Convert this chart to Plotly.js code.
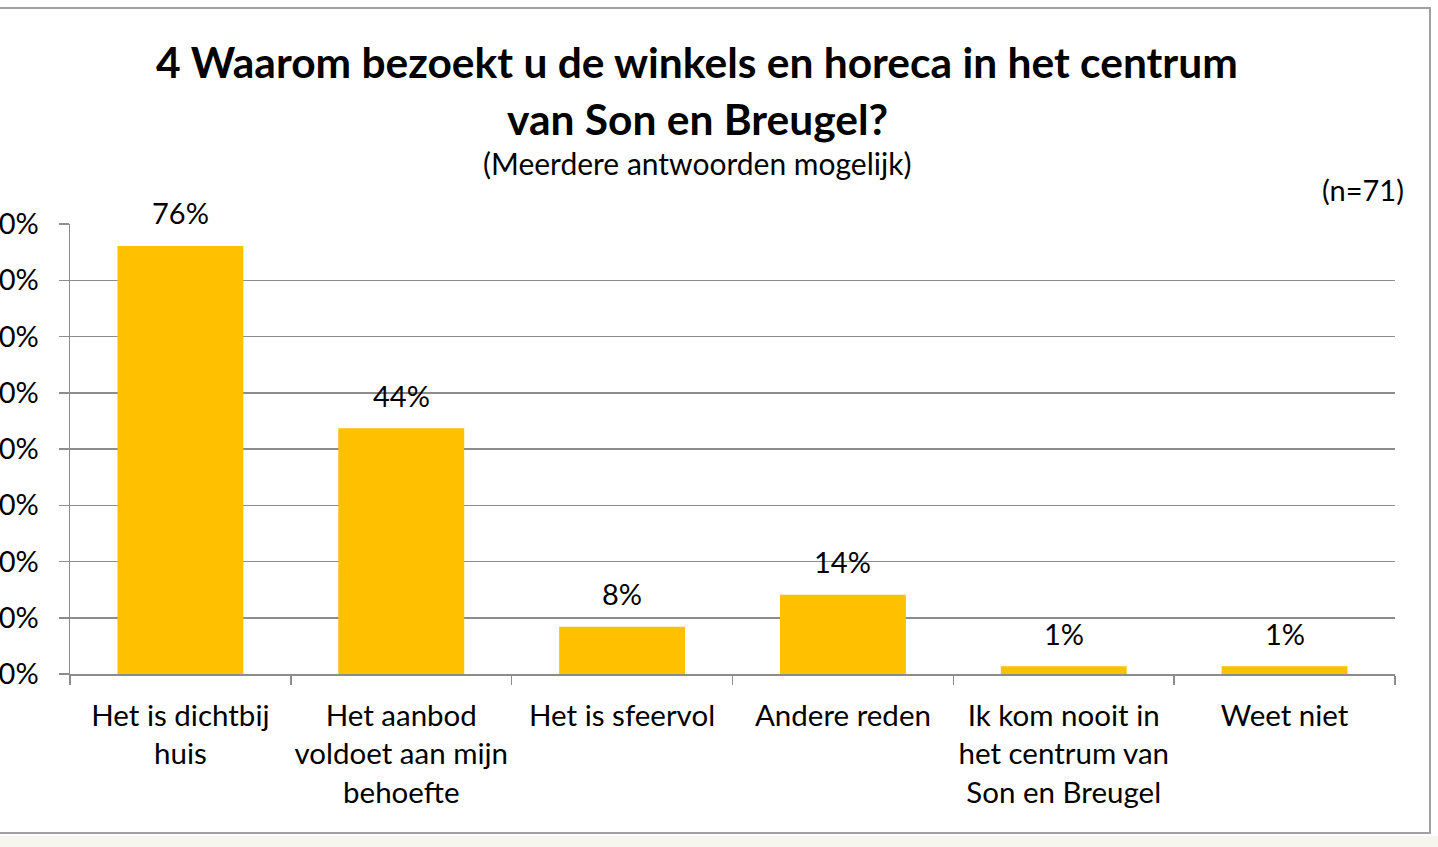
<!DOCTYPE html>
<html>
<head>
<meta charset="utf-8">
<script src="https://cdn.plot.ly/plotly-3.0.1.min.js"></script>
<style>html,body{margin:0;padding:0;background:#fff;}#chart{width:1438px;height:847px;}</style>
</head>
<body>
<div id="chart"></div>
<script>
const categories = [
  "Het is dichtbij<br>huis",
  "Het aanbod<br>voldoet aan mijn<br>behoefte",
  "Het is sfeervol",
  "Andere reden",
  "Ik kom nooit in<br>het centrum van<br>Son en Breugel",
  "Weet niet"
];
const values = [76.1, 43.7, 8.4, 14.1, 1.4, 1.4];
const yTickValues = [0, 10, 20, 30, 40, 50, 60, 70, 80];
const titleLine1 = "4 Waarom bezoekt u de winkels en horeca in het centrum";
const titleLine2 = "van Son en Breugel?";
const subtitle = "(Meerdere antwoorden mogelijk)";
const sampleNote = "(n=71)";

const FONT = "Lato, 'Open Sans', sans-serif";
const L = 70, R = 43, T = 224, B = 173, W = 1438, H = 847;
const pw = W - L - R, ph = H - T - B;
const px = x => (x - L) / pw;
const py = y => (H - B - y) / ph;

const trace = {
  type: "bar",
  x: categories,
  y: values,
  marker: {color: "#FFC000"},
  cliponaxis: false,
  hoverinfo: "none"
};

const valueLabels = categories.map((c, i) => ({
  text: Math.round(values[i]) + "%",
  xref: "x", yref: "y", x: c, y: values[i],
  xanchor: "center", yanchor: "middle", yshift: 33,
  showarrow: false,
  font: {family: FONT, size: 29, color: "#000"}
}));

const layout = {
  width: W, height: H,
  margin: {l: L, r: R, t: T, b: B, autoexpand: false},
  paper_bgcolor: "#fff",
  plot_bgcolor: "#fff",
  bargap: 0.43,
  showlegend: false,
  font: {family: FONT, color: "#000"},
  xaxis: {
    type: "category",
    tickson: "boundaries",
    ticks: "outside",
    ticklen: 9,
    tickcolor: "#8c8c8c",
    tickwidth: 1.5,
    showline: true,
    linecolor: "#8c8c8c",
    linewidth: 1.5,
    showgrid: false,
    tickfont: {family: FONT, size: 29.5, color: "#000"},
    ticklabelstandoff: 15,
    automargin: false,
    tickangle: 0,
    fixedrange: true
  },
  yaxis: {
    range: [0, 80],
    tickvals: yTickValues,
    ticktext: yTickValues.map(v => v + "%"),
    ticks: "outside",
    ticklen: 10,
    tickcolor: "#8c8c8c",
    tickwidth: 1.5,
    showline: true,
    linecolor: "#8c8c8c",
    linewidth: 1.5,
    showgrid: true,
    gridcolor: "#8c8c8c",
    gridwidth: 1.5,
    zeroline: false,
    tickfont: {family: FONT, size: 29, color: "#000"},
    ticklabelstandoff: 14,
    automargin: false,
    fixedrange: true
  },
  annotations: valueLabels.concat([
    {text: "<b>" + titleLine1 + "</b>", xref: "paper", yref: "paper", x: px(697), y: py(62), xanchor: "center", yanchor: "middle", showarrow: false, font: {family: FONT, size: 42.5, color: "#000"}},
    {text: "<b>" + titleLine2 + "</b>", xref: "paper", yref: "paper", x: px(697), y: py(118), xanchor: "center", yanchor: "middle", showarrow: false, font: {family: FONT, size: 42.5, color: "#000"}},
    {text: subtitle, xref: "paper", yref: "paper", x: px(697), y: py(163), xanchor: "center", yanchor: "middle", showarrow: false, font: {family: FONT, size: 30, color: "#000"}},
    {text: sampleNote, xref: "paper", yref: "paper", x: px(1406), y: py(190), xanchor: "right", yanchor: "middle", showarrow: false, font: {family: FONT, size: 29, color: "#000"}}
  ]),
  shapes: [
    {type: "rect", xref: "paper", yref: "paper", x0: px(-10), x1: px(1430), y0: py(833), y1: py(8), line: {color: "#a0a0a0", width: 2}, fillcolor: "rgba(0,0,0,0)", layer: "below"},
    {type: "rect", xref: "paper", yref: "paper", x0: px(-10), x1: px(1450), y0: py(860), y1: py(836), line: {width: 0}, fillcolor: "#f6f6ef", layer: "below"}
  ]
};

Plotly.newPlot("chart", [trace], layout, {displayModeBar: false, staticPlot: true});
</script>
</body>
</html>
